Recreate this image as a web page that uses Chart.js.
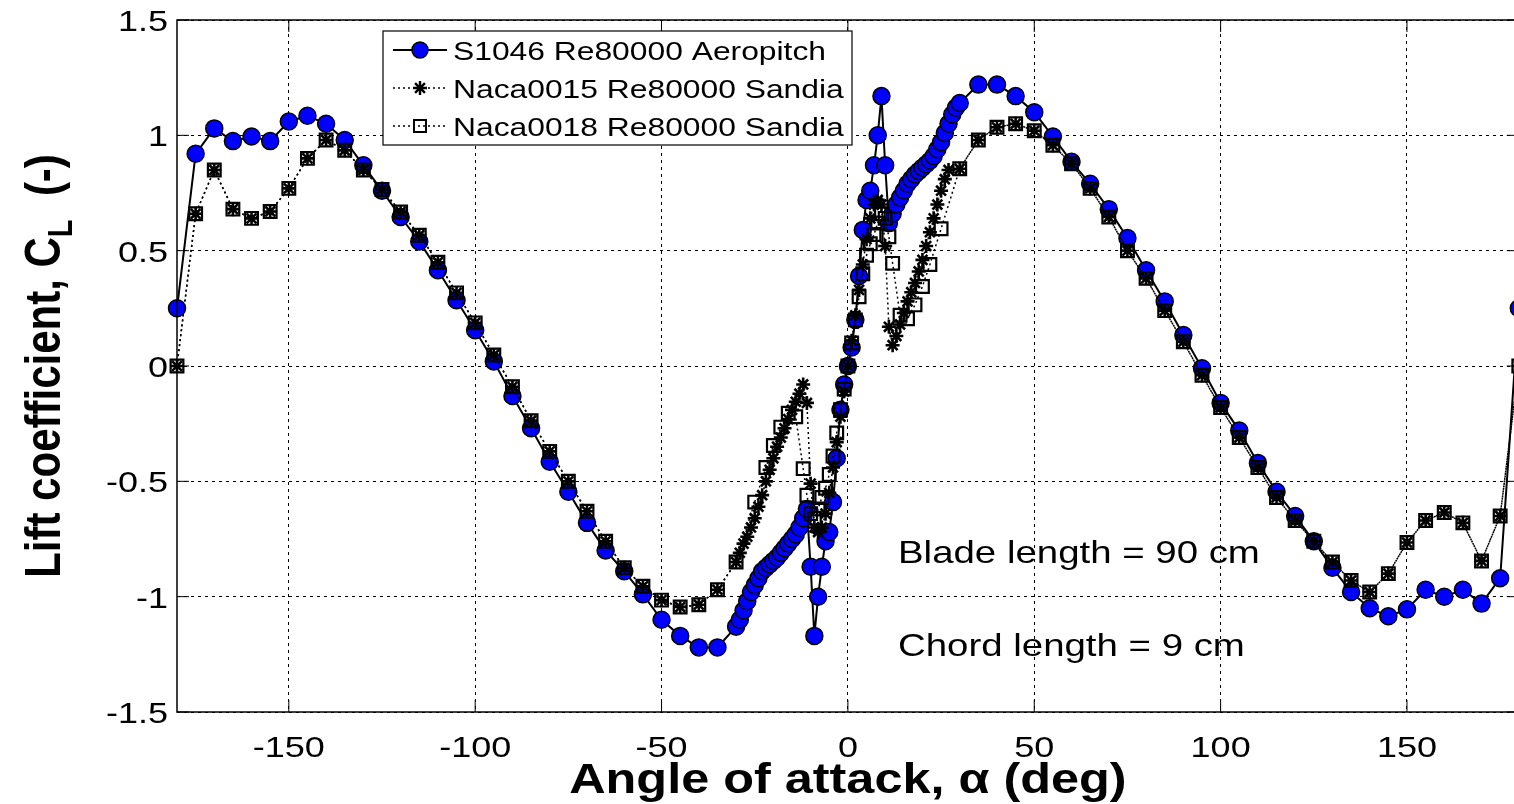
<!DOCTYPE html>
<html>
<head>
<meta charset="utf-8">
<script src="https://cdn.jsdelivr.net/npm/chart.js@4.4.1/dist/chart.umd.min.js"></script>
<style>
  html, body { margin: 0; padding: 0; background: #fff; overflow: hidden; }
  #wrap { position: relative; width: 1530px; height: 804px; }
</style>
</head>
<body>
<div id="wrap"><canvas id="cl" width="1530" height="804"></canvas></div>
<script>
/* ── data ─────────────────────────────── */
const s1046Alpha = [
  -180, -175, -170, -165, -160, -155, -150, -145, -140, -135, -130, -125, -120, -115, -110,
  -105, -100, -95, -90, -85, -80, -75, -70, -65, -60, -55, -50, -45, -40, -35,
  -30, -29, -28, -27, -26, -25, -24, -23, -22, -21, -20, -19, -18, -17, -16, -15, -14, -13,
  -12, -11, -10, -9, -8, -7, -6, -5, -4, -3, -2, -1, 0,
  1, 2, 3, 4, 5, 6, 7, 8, 9, 10, 11, 12, 13, 14, 15, 16, 17, 18, 19, 20, 21, 22, 23, 24,
  25, 26, 27, 28, 29, 30,
  35, 40, 45, 50, 55, 60, 65, 70, 75, 80, 85, 90, 95, 100, 105, 110, 115, 120, 125, 130,
  135, 140, 145, 150, 155, 160, 165, 170, 175, 180
];
const s1046Cl = [
  0.25, 0.92, 1.03, 0.975, 0.995, 0.975, 1.06, 1.085, 1.05, 0.98, 0.87, 0.76, 0.646, 0.54, 0.415,
  0.285, 0.155, 0.02, -0.13, -0.27, -0.415, -0.545, -0.68, -0.80, -0.89, -0.99, -1.10, -1.17, -1.22, -1.22,
  -1.13, -1.10, -1.06, -1.02, -0.98, -0.95, -0.92, -0.89, -0.875, -0.86, -0.845, -0.83, -0.81, -0.79, -0.77, -0.75, -0.73, -0.70,
  -0.66, -0.62, -0.87, -1.17, -1.0, -0.87, -0.76, -0.72, -0.59, -0.40, -0.19, -0.08, 0,
  0.08, 0.2, 0.39, 0.59, 0.72, 0.76, 0.87, 1.0, 1.17, 0.87, 0.62, 0.66, 0.70, 0.73, 0.76, 0.79, 0.81, 0.83, 0.845, 0.86, 0.875, 0.89, 0.91, 0.94,
  0.97, 1.01, 1.05, 1.09, 1.12, 1.14,
  1.22, 1.22, 1.17, 1.10, 0.995, 0.885, 0.79, 0.68, 0.555, 0.415, 0.28, 0.134, -0.01, -0.16, -0.28, -0.42, -0.545, -0.65, -0.76, -0.875,
  -0.98, -1.05, -1.085, -1.055, -0.97, -1.0, -0.97, -1.03, -0.92, 0.25
];

const naca15Alpha = [
  -180, -175, -170, -165, -160, -155, -150, -145, -140, -135, -130, -125, -120, -115, -110,
  -105, -100, -95, -90, -85, -80, -75, -70, -65, -60, -55, -50, -45, -40, -35,
  -30, -29, -28, -27, -26, -25, -24, -23, -22, -21, -20, -19, -18, -17, -16, -15, -14, -13,
  -12, -11, -10, -9, -8, -7, -6, -5, -4, -3, -2, -1, 0,
  1, 2, 3, 4, 5, 6, 7, 8, 9, 10, 11, 12, 13, 14, 15, 16, 17, 18, 19, 20, 21, 22, 23, 24,
  25, 26, 27, 30,
  35, 40, 45, 50, 55, 60, 65, 70, 75, 80, 85, 90, 95, 100, 105, 110, 115, 120, 125, 130,
  135, 140, 145, 150, 155, 160, 165, 170, 175, 180
];
const naca15Cl = [
  0, 0.66, 0.85, 0.68, 0.64, 0.67, 0.77, 0.90, 0.98, 0.935, 0.85, 0.765, 0.668, 0.567, 0.45,
  0.317, 0.187, 0.048, -0.09, -0.237, -0.37, -0.50, -0.63, -0.76, -0.875, -0.955, -1.015, -1.045, -1.035, -0.97,
  -0.85, -0.81, -0.77, -0.74, -0.70, -0.66, -0.61, -0.56, -0.50, -0.45, -0.40, -0.35, -0.31, -0.27, -0.23, -0.19, -0.155, -0.12,
  -0.08, -0.16, -0.51, -0.70, -0.72, -0.70, -0.64, -0.55, -0.44, -0.33, -0.22, -0.11, 0,
  0.11, 0.22, 0.33, 0.44, 0.55, 0.64, 0.70, 0.72, 0.70, 0.52, 0.17, 0.09, 0.13, 0.18, 0.23, 0.28, 0.32, 0.36, 0.41, 0.46, 0.52, 0.58, 0.64, 0.70,
  0.76, 0.81, 0.85, 0.855,
  0.98, 1.035, 1.05, 1.02, 0.957, 0.877, 0.77, 0.646, 0.50, 0.38, 0.24, 0.105, -0.04, -0.18, -0.31, -0.44, -0.57, -0.67, -0.76, -0.85,
  -0.93, -0.98, -0.90, -0.765, -0.67, -0.635, -0.68, -0.845, -0.65, 0
];

const naca18Alpha = [
  -180, -175, -170, -165, -160, -155, -150, -145, -140, -135, -130, -125, -120, -115, -110,
  -105, -100, -95, -90, -85, -80, -75, -70, -65, -60, -55, -50, -45, -40, -35,
  -30, -25, -22, -20, -18, -16, -14, -12, -11, -10, -9, -8, -7, -6, -5, -4, -3, -2, -1, 0,
  1, 2, 3, 4, 5, 6, 7, 8, 9, 10, 11, 12, 14, 16, 18, 20, 22, 25, 30,
  35, 40, 45, 50, 55, 60, 65, 70, 75, 80, 85, 90, 95, 100, 105, 110, 115, 120, 125, 130,
  135, 140, 145, 150, 155, 160, 165, 170, 175, 180
];
const naca18Cl = [
  0, 0.66, 0.85, 0.68, 0.64, 0.67, 0.77, 0.90, 0.98, 0.935, 0.85, 0.765, 0.668, 0.567, 0.45,
  0.317, 0.187, 0.048, -0.09, -0.237, -0.37, -0.50, -0.63, -0.76, -0.875, -0.955, -1.015, -1.045, -1.035, -0.97,
  -0.85, -0.59, -0.44, -0.345, -0.265, -0.205, -0.22, -0.445, -0.56, -0.64, -0.66, -0.62, -0.57, -0.53, -0.47, -0.39, -0.29, -0.19, -0.1, 0,
  0.1, 0.2, 0.3, 0.4, 0.48, 0.53, 0.57, 0.62, 0.66, 0.64, 0.56, 0.445, 0.22, 0.205, 0.265, 0.345, 0.44, 0.595, 0.855,
  0.98, 1.035, 1.05, 1.02, 0.957, 0.877, 0.77, 0.646, 0.50, 0.38, 0.24, 0.105, -0.04, -0.18, -0.31, -0.44, -0.57, -0.67, -0.76, -0.85,
  -0.93, -0.98, -0.90, -0.765, -0.67, -0.635, -0.68, -0.845, -0.65, 0
];

const xTicks = [-150, -100, -50, 0, 50, 100, 150];
const yTicks = [-1.5, -1, -0.5, 0, 0.5, 1, 1.5];
const legendLabels = ['S1046 Re80000 Aeropitch', 'Naca0015 Re80000 Sandia', 'Naca0018 Re80000 Sandia'];
const notes = ['Blade length = 90 cm', 'Chord length = 9 cm'];

/* ── helpers ──────────────────────────── */
const FONT = '"Liberation Sans", Arial, sans-serif';
const SX = 1.2;   // the source figure is stretched sideways

function pts(xs, ys) { return xs.map((x, i) => ({ x: x, y: ys[i] })); }

function stretchText(ctx, text, x, y, font, align, sx) {
  ctx.save();
  ctx.font = font;
  ctx.fillStyle = '#000';
  ctx.textAlign = 'left';
  ctx.textBaseline = 'alphabetic';
  const w = ctx.measureText(text).width * sx;
  let left = x;
  if (align === 'center') left = x - w / 2;
  else if (align === 'right') left = x - w;
  ctx.translate(left, y);
  ctx.scale(sx, 1);
  ctx.fillText(text, 0, 0);
  ctx.restore();
}

function marker(ctx, style, x, y) {
  ctx.save();
  ctx.strokeStyle = '#000';
  ctx.setLineDash([]);
  if (style === 'circle') {
    ctx.lineWidth = 1.5;
    ctx.fillStyle = '#0000ff';
    ctx.beginPath(); ctx.arc(x, y, 8, 0, Math.PI * 2); ctx.fill(); ctx.stroke();
  } else if (style === 'star') {
    ctx.lineWidth = 2.4;
    ctx.beginPath();
    const r = 7, d = r * Math.SQRT1_2;
    ctx.moveTo(x - r, y); ctx.lineTo(x + r, y);
    ctx.moveTo(x, y - r); ctx.lineTo(x, y + r);
    ctx.moveTo(x - d, y - d); ctx.lineTo(x + d, y + d);
    ctx.moveTo(x - d, y + d); ctx.lineTo(x + d, y - d);
    ctx.stroke();
  } else {
    ctx.lineWidth = 2;
    ctx.strokeRect(x - 6, y - 6, 12, 12);
  }
  ctx.restore();
}

/* ── frame, labels, legend, notes ─────── */
const matlabFrame = {
  id: 'matlabFrame',
  afterDraw(chart) {
    const ctx = chart.ctx;
    const a = chart.chartArea;
    const xs = chart.scales.x, ys = chart.scales.y;

    // box
    ctx.save();
    ctx.strokeStyle = '#000';
    ctx.lineWidth = 1.5;
    ctx.strokeRect(a.left, a.top, a.right - a.left, a.bottom - a.top);
    // inward ticks
    ctx.lineWidth = 1;
    ctx.beginPath();
    xTicks.forEach(v => {
      const px = xs.getPixelForValue(v);
      ctx.moveTo(px, a.bottom); ctx.lineTo(px, a.bottom - 12);
      ctx.moveTo(px, a.top); ctx.lineTo(px, a.top + 12);
    });
    yTicks.forEach(v => {
      const py = ys.getPixelForValue(v);
      ctx.moveTo(a.left, py); ctx.lineTo(a.left + 12, py);
      ctx.moveTo(a.right, py); ctx.lineTo(a.right - 12, py);
    });
    ctx.stroke();
    ctx.restore();

    // tick labels
    const tickFont = '30px ' + FONT;
    xTicks.forEach(v => {
      stretchText(ctx, String(v), xs.getPixelForValue(v), a.bottom + 45, tickFont, 'center', SX);
    });
    yTicks.forEach(v => {
      stretchText(ctx, String(v), a.left - 9, ys.getPixelForValue(v) + 11, tickFont, 'right', SX);
    });

    // x title
    const titleFont = 'bold 42px ' + FONT;
    stretchText(ctx, 'Angle of attack, \u03b1 (deg)', (a.left + a.right) / 2, 793, titleFont, 'center', SX);

    // y title with subscript, rotated
    ctx.save();
    ctx.translate(60, (a.top + a.bottom) / 2);
    ctx.rotate(-Math.PI / 2);
    ctx.scale(1, SX);
    ctx.fillStyle = '#000';
    ctx.textBaseline = 'alphabetic';
    ctx.textAlign = 'left';
    const p1 = 'Lift coefficient, C', p2 = 'L', p3 = '  (-)';
    ctx.font = titleFont;
    const w1 = ctx.measureText(p1).width, w3 = ctx.measureText(p3).width;
    ctx.font = 'bold 29px ' + FONT;
    const w2 = ctx.measureText(p2).width;
    let cx = -(w1 + w2 + w3) / 2;
    ctx.font = titleFont;
    ctx.fillText(p1, cx, 0); cx += w1;
    ctx.font = 'bold 29px ' + FONT;
    ctx.fillText(p2, cx, 10); cx += w2;
    ctx.font = titleFont;
    ctx.fillText(p3, cx, 0);
    ctx.restore();

    // notes
    const noteFont = '32px ' + FONT;
    stretchText(ctx, notes[0], 898, 563, noteFont, 'left', SX);
    stretchText(ctx, notes[1], 898, 656, noteFont, 'left', SX);

    // legend
    ctx.save();
    ctx.fillStyle = '#fff';
    ctx.fillRect(383, 31, 469, 114);
    ctx.strokeStyle = '#000';
    ctx.lineWidth = 1.2;
    ctx.strokeRect(383, 31, 469, 114);
    const rows = [50, 88, 126];
    const styles = ['circle', 'star', 'rect'];
    rows.forEach((ry, i) => {
      ctx.save();
      ctx.strokeStyle = '#000';
      ctx.lineWidth = i === 0 ? 2 : 1.5;
      ctx.setLineDash(i === 0 ? [] : [2, 3]);
      ctx.beginPath(); ctx.moveTo(393, ry); ctx.lineTo(447, ry); ctx.stroke();
      ctx.restore();
      marker(ctx, styles[i], 420, ry);
      stretchText(ctx, legendLabels[i], 453, ry + 10, '26.5px ' + FONT, 'left', SX);
    });
    ctx.restore();
  }
};

/* ── chart ────────────────────────────── */
const dotted = [2, 3];

new Chart(document.getElementById('cl'), {
  type: 'scatter',
  data: {
    datasets: [
      {
        label: legendLabels[0],
        data: pts(s1046Alpha, s1046Cl),
        showLine: true,
        borderColor: '#000',
        borderWidth: 2,
        pointStyle: 'circle',
        pointRadius: 8.5,
        pointBackgroundColor: '#0000ff',
        pointBorderColor: '#000',
        pointBorderWidth: 1.5,
        order: 3,
        clip: false
      },
      {
        label: legendLabels[1],
        data: pts(naca15Alpha, naca15Cl),
        showLine: true,
        borderColor: '#000',
        borderWidth: 1.5,
        borderDash: dotted,
        pointStyle: 'star',
        pointRadius: 7,
        pointBackgroundColor: '#000',
        pointBorderColor: '#000',
        pointBorderWidth: 2.6,
        order: 2,
        clip: false
      },
      {
        label: legendLabels[2],
        data: pts(naca18Alpha, naca18Cl),
        showLine: true,
        borderColor: '#000',
        borderWidth: 1.5,
        borderDash: dotted,
        pointStyle: 'rect',
        pointRadius: 9,
        pointBackgroundColor: 'rgba(0,0,0,0)',
        pointBorderColor: '#000',
        pointBorderWidth: 2.2,
        order: 1,
        clip: false
      }
    ]
  },
  options: {
    responsive: false,
    animation: false,
    devicePixelRatio: 1,
    layout: { padding: { left: 177, top: 20, right: 9, bottom: 92 } },
    plugins: { legend: { display: false }, tooltip: { enabled: false } },
    scales: {
      x: {
        type: 'linear', min: -180, max: 180,
        afterBuildTicks: s => { s.ticks = xTicks.map(v => ({ value: v })); },
        ticks: { display: false },
        grid: { color: '#000', lineWidth: 1, drawTicks: false },
        border: { display: false, dash: [3, 4] }
      },
      y: {
        type: 'linear', min: -1.5, max: 1.5,
        afterBuildTicks: s => { s.ticks = yTicks.map(v => ({ value: v })); },
        ticks: { display: false },
        grid: { color: '#000', lineWidth: 1, drawTicks: false },
        border: { display: false, dash: [3, 4] }
      }
    }
  },
  plugins: [matlabFrame]
});
</script>
</body>
</html>
